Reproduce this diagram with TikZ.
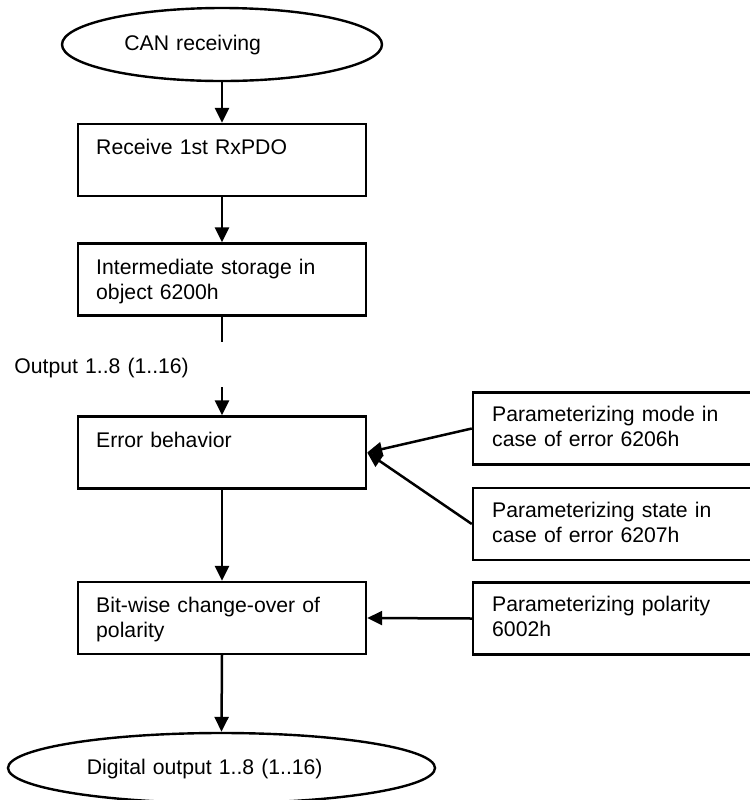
\documentclass[tikz,border=0pt]{standalone}
\usepackage{fontspec}
\setmainfont{Liberation Sans}
\usetikzlibrary{shapes.geometric,arrows.meta}

\begin{document}
\begin{tikzpicture}[x=0.5pt,y=-0.5pt,
  plain/.style={line width=1.25pt},
  flow/.style={line width=1.25pt,-{Triangle[length=7.5pt,width=7pt]}},
  procbox/.style={draw,line width=1.2pt,minimum width=144pt,minimum height=36pt,inner sep=0pt},
  sidebox/.style={procbox,minimum width=150pt},
  terminal/.style={draw,ellipse,line width=1.2pt,inner sep=0pt},
  lbl/.style={anchor=base west,inner sep=0pt,text width=150pt,align=left,
              font=\fontsize{10.6pt}{12.5pt}\selectfont},
]
\clip (0,0) rectangle (750,800);

% start / end terminals
\node[terminal,minimum width=160pt,minimum height=36.5pt] (start) at (222,44.5) {};
\node[lbl] (tstart) at (124,50) {CAN receiving};

\node[terminal,minimum width=213.5pt,minimum height=35pt] (out) at (221.5,768) {};
\node[lbl] (tout) at (86.5,774) {Digital output 1..8 (1..16)};

% main column
\node[procbox] (rx) at (222,160) {};
\node[lbl] (trx) at ([shift={(19,32)}]rx.north west) {Receive 1st RxPDO};

\node[procbox] (store) at (222,279.5) {};
\node[lbl] (tstore) at ([shift={(19,32)}]store.north west) {Intermediate storage in\\object 6200h};

\node[procbox] (err) at (222,452.5) {};
\node[lbl] (terr) at ([shift={(19,32)}]err.north west) {Error behavior};

\node[procbox] (pol) at (222,618) {};
\node[lbl] (tpol) at ([shift={(19,32)}]pol.north west) {Bit-wise change-over of\\polarity};

% parameter objects on the right
\node[sidebox] (modeP) at (623,428.5) {};
\node[lbl] (tmode) at ([shift={(20,30)}]modeP.north west) {Parameterizing mode in\\case of error 6206h};

\node[sidebox] (stateP) at (623,524) {};
\node[lbl] (tstate) at ([shift={(20,31)}]stateP.north west) {Parameterizing state in\\case of error 6207h};

\node[sidebox] (polP) at (623,618.5) {};
\node[lbl] (tpolP) at ([shift={(20,30)}]polP.north west) {Parameterizing polarity\\6002h};

% output label between storage and error handling
\coordinate (gapTop) at (222,342);
\coordinate (gapBot) at (222,387);
\node[lbl] (tgap) at (14,373) {Output 1..8 (1..16)};

% connectors
\draw[flow] (start.south) -- (rx.north);
\draw[flow] (rx.south) -- (store.north);
\draw[plain] (store.south) -- (gapTop);
\draw[flow] (gapBot) -- (err.north);
\draw[flow] (modeP.west) -- (err.east);
\draw[flow] (stateP.west) -- (err.east);
\draw[flow] (err.south) -- (pol.north);
\draw[flow] (polP.west) -- (pol.east);
\draw[flow] (pol.south) -- (out.north);
\end{tikzpicture}
\end{document}
